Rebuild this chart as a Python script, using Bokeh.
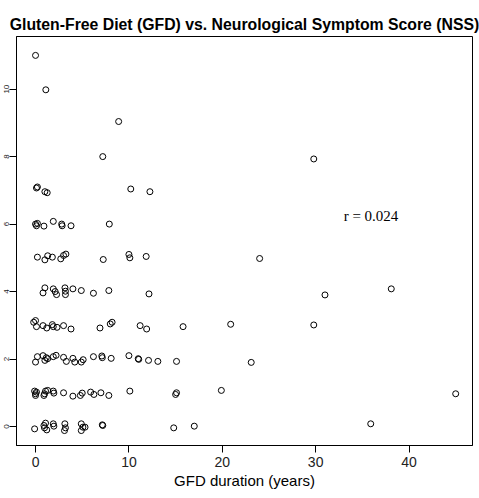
from bokeh.plotting import figure
from bokeh.models import Range1d, FixedTicker, Label
from bokeh.embed import file_html
from bokeh.resources import INLINE

# GFD duration (years) and NSS score (with plotting jitter)
gfd_years = [
    # NSS 0
    -0.1, 0.9, 0.96, 1.07, 1.2, 1.9, 1.96, 3.14, 3.2, 3.1, 4.9, 5.07, 4.9, 5.3, 7.15, 7.2, 14.8, 17.0, 35.9,
    # NSS 1
    -0.1, 0.0, 0.1, 0.0, 0.96, 1.07, 0.9, 1.3, 1.9, 1.96, 3.0, 4.0, 4.8, 5.0, 5.9, 6.25, 7.0, 7.85, 10.1, 15.0, 15.1, 19.9, 45.0,
    # NSS 2
    0.0, 0.2, 0.8, 1.0, 1.15, 1.3, 1.9, 2.2, 3.0, 3.3, 4.0, 4.2, 4.9, 5.1, 6.2, 7.1, 7.15, 8.1, 10.0, 11.0, 11.05, 12.1, 13.1, 15.1, 23.1,
    # NSS 3
    -0.2, 0.0, 0.1, 0.8, 1.2, 1.8, 1.9, 2.3, 3.0, 3.8, 6.9, 8.0, 8.2, 11.2, 11.9, 15.8, 20.9, 29.8,
    # NSS 4
    0.8, 1.0, 1.9, 2.1, 2.25, 3.15, 3.2, 3.2, 4.0, 4.9, 6.2, 7.85, 12.15, 31.0, 38.1,
    # NSS 5
    0.2, 1.0, 1.3, 1.8, 2.7, 3.0, 3.25, 7.25, 10.0, 10.1, 11.85, 24.0,
    # NSS 6
    0.0, 0.1, 0.2, 0.9, 1.9, 2.8, 2.85, 3.8, 7.9,
    # NSS 7
    0.1, 0.2, 1.0, 1.25, 10.2, 12.25,
    # NSS 8-11
    7.2, 29.8, 8.9, 1.1, 0.0,
]
nss_score = [
    -0.07, 0.03, -0.04, 0.1, -0.1, 0.08, 0.01, 0.08, -0.04, -0.12, 0.08, -0.02, -0.12, -0.02, 0.05, 0.03, -0.04, 0.01, 0.08,
    1.05, 0.97, 1.02, 0.92, 0.97, 1.05, 0.92, 1.07, 1.05, 0.99, 1.0, 0.9, 0.92, 0.99, 1.02, 0.95, 1.0, 0.92, 1.05, 0.95, 1.0, 1.07, 0.97,
    1.91, 2.07, 2.10, 1.96, 2.04, 2.01, 2.07, 2.11, 2.05, 1.93, 2.02, 1.91, 1.91, 1.98, 2.07, 2.09, 2.04, 2.02, 2.10, 2.01, 1.99, 1.96, 1.93, 1.93, 1.9,
    3.09, 3.14, 2.96, 2.99, 2.92, 3.02, 2.96, 2.94, 2.99, 2.89, 2.92, 3.04, 3.09, 2.99, 2.89, 2.96, 3.03, 3.01,
    3.96, 4.11, 4.08, 4.0, 3.91, 4.11, 4.01, 3.91, 4.08, 4.03, 3.95, 4.03, 3.93, 3.9, 4.08,
    5.02, 4.94, 5.06, 5.02, 4.97, 5.07, 5.11, 4.95, 5.1, 5.0, 5.04, 4.98,
    6.0, 5.95, 6.02, 5.94, 6.08, 6.0, 5.95, 5.95, 6.0,
    7.07, 7.1, 6.96, 6.93, 7.04, 6.96,
    8.0, 7.93, 9.04, 9.98, 11.0,
]
x_ticks = [0, 10, 20, 30, 40]
y_ticks = [0, 2, 4, 6, 8, 10]
r_text = "r = 0.024"

p = figure(width=479, height=498, output_backend="svg", toolbar_location=None,
           x_range=Range1d(-2.04, 46.8), y_range=Range1d(-0.563, 11.56),
           min_border_left=16, min_border_right=7, min_border_top=36, min_border_bottom=53,
           title="Gluten-Free Diet (GFD) vs. Neurological Symptom Score (NSS)")

p.title.text_font = "Liberation Sans"
p.title.text_font_size = "15.8px"
p.title.text_font_style = "bold"
p.title.text_color = "black"
p.title.align = "center"
p.title.standoff = 8

p.grid.visible = False
p.outline_line_color = "black"
p.outline_line_width = 1
p.background_fill_color = "white"
p.border_fill_color = "white"

xa = p.xaxis[0]
xa.ticker = FixedTicker(ticks=x_ticks)
xa.axis_label = "GFD duration (years)"
xa.axis_label_text_font = "Liberation Sans"
xa.axis_label_text_font_size = "15px"
xa.axis_label_text_font_style = "normal"
xa.axis_label_text_color = "black"
xa.axis_label_standoff = 2
xa.major_label_text_font = "Liberation Sans"
xa.major_label_text_font_size = "14px"
xa.major_label_text_color = "#222222"
xa.major_label_standoff = 4
xa.major_tick_out = 7
xa.major_tick_in = 0
xa.minor_tick_out = 0
xa.minor_tick_in = 0
xa.axis_line_color = "black"
xa.major_tick_line_color = "black"

ya = p.yaxis[0]
ya.ticker = FixedTicker(ticks=y_ticks)
ya.major_label_orientation = "vertical"
ya.major_label_text_font = "Liberation Sans"
ya.major_label_text_font_size = "8px"
ya.major_label_text_color = "#222222"
ya.major_label_standoff = 0
ya.major_tick_out = 7
ya.major_tick_in = 0
ya.minor_tick_out = 0
ya.minor_tick_in = 0
ya.axis_line_color = "black"
ya.major_tick_line_color = "black"

p.scatter(gfd_years, nss_score, size=6, marker="circle",
          fill_color=None, line_color="black", line_width=1)

p.add_layout(Label(x=33.0, y=6.25, text=r_text, text_font="Liberation Serif",
                   text_font_size="15px", text_color="black", text_baseline="alphabetic"))

open("out.html", "w").write(file_html(p, INLINE))
